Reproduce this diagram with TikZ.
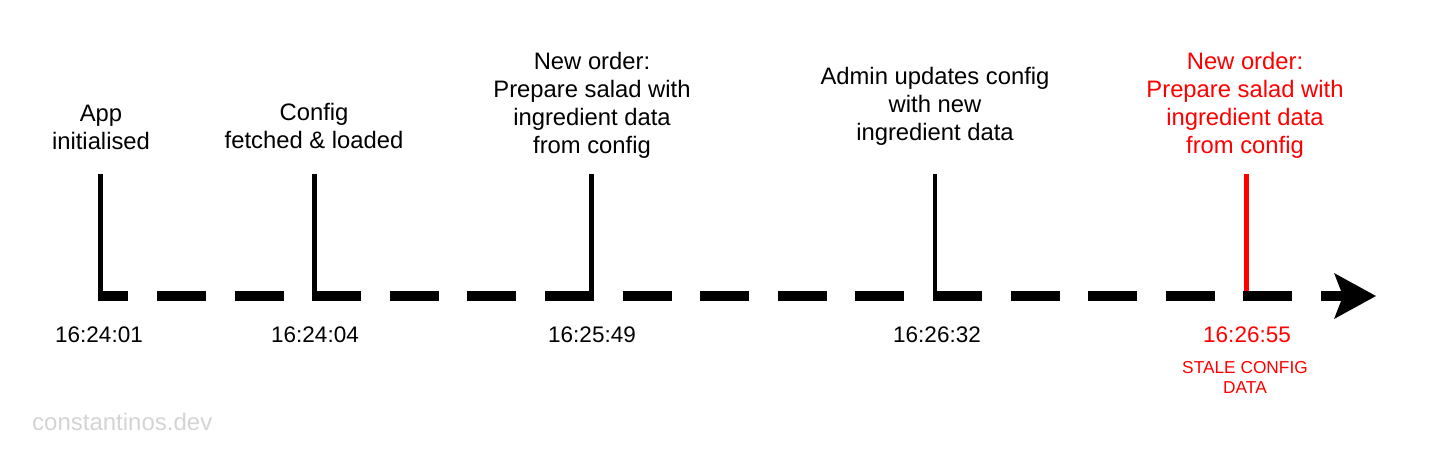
\documentclass[tikz,border=0pt]{standalone}
\usepackage{fontspec}
\setmainfont{Liberation Sans}
\usetikzlibrary{arrows.meta}
\definecolor{wm}{HTML}{D4D4D4}
\definecolor{alert}{HTML}{FF0000}
\tikzset{
  event/.style={anchor=north, inner sep=0pt, align=center, font=\fontsize{23.8}{28}\selectfont},
  stamp/.style={anchor=north, inner sep=0pt, font=\fontsize{22.5}{27}\selectfont},
  tick/.style={line width=4.5pt, line cap=butt},
  timeline/.style={line width=10pt, line cap=butt, dash pattern=on 49pt off 28.6pt, dash phase=18.6pt,
    -{Stealth[length=42pt, width=46pt, inset=9pt, line width=0pt]}},
}
\begin{document}
\begin{tikzpicture}[x=1pt, y=-1pt]
\useasboundingbox (0,0) rectangle (1429,448);
% corners and tops
\coordinate (b1) at (100.5,296); \coordinate (t1) at (100.5,174);
\coordinate (b2) at (314.5,296); \coordinate (t2) at (314.5,174);
\coordinate (b3) at (591.5,296); \coordinate (t3) at (591.5,174);
\coordinate (b4) at (935,296);   \coordinate (t4) at (935,174);
\coordinate (b5) at (1246.5,296); \coordinate (t5) at (1246.5,174);
\coordinate (start) at (98,296);
\coordinate (tip) at (1376,296);
% ticks
\draw[tick] (t1) -- (b1);
\draw[tick] (t2) -- (b2);
\draw[tick] (t3) -- (b3);
\draw[tick] (t4) -- (b4);
\draw[tick, alert] (t5) -- (b5);
% timeline
\draw[timeline] (start) -- (tip);
% event labels
\node[event] (e1) at (101,104.5) {App\\initialised};
\node[event] (e2) at (314,103.5) {Config\\fetched \& loaded};
\node[event] (e3) at (592,52.5) {New order:\\Prepare salad with\\ingredient data\\from config};
\node[event] (e4) at (935,67.5) {Admin updates config\\with new\\ingredient data};
\node[event, text=alert] (e5) at (1245,52.5) {New order:\\Prepare salad with\\ingredient data\\from config};
% time stamps
\node[stamp] (s1) at (99,327) {16:24:01};
\node[stamp] (s2) at (315,327) {16:24:04};
\node[stamp] (s3) at (592,327) {16:25:49};
\node[stamp] (s4) at (937,327) {16:26:32};
\node[stamp, text=alert] (s5) at (1247,327) {16:26:55};
\node[anchor=north, inner sep=0pt, align=center, text=alert, font=\fontsize{17.3}{20}\selectfont] (stale) at (1245,361.5) {STALE CONFIG\\DATA};
% watermark
\node[anchor=base west, inner sep=0pt, text=wm, font=\fontsize{24}{28}\selectfont] (wmk) at (32,430) {constantinos.dev};
\end{tikzpicture}
\end{document}
